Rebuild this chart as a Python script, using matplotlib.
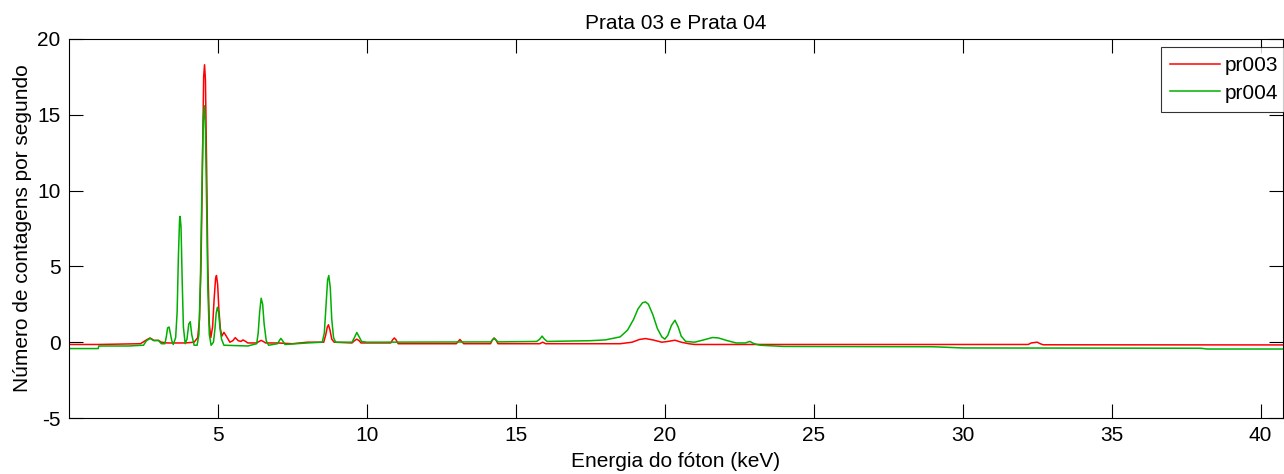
import matplotlib
matplotlib.use('Agg')
import matplotlib.pyplot as plt

# spectrum pr003 (red)
pr003_x = [0.0, 1.0, 2.4, 2.6, 2.72, 2.85, 3.0, 3.1, 3.3, 3.6, 3.9, 4.2, 4.32, 4.38, 4.43, 4.48,
           4.52, 4.55, 4.58, 4.62, 4.66, 4.71, 4.76, 4.82, 4.87, 4.92, 4.95, 4.99, 5.03, 5.08,
           5.13, 5.2, 5.28, 5.4, 5.5, 5.58, 5.68, 5.77, 5.84, 5.93, 6.0, 6.3, 6.38, 6.45, 6.52,
           6.6, 7.0, 7.5, 8.0, 8.55, 8.62, 8.67, 8.71, 8.76, 8.82, 8.9, 9.5, 9.58, 9.66, 9.74,
           9.8, 10.8, 10.86, 10.92, 10.98, 11.05, 13.0, 13.12, 13.25, 14.15, 14.21, 14.27, 14.33,
           14.4, 15.8, 15.9, 16.0, 18.5, 18.9, 19.15, 19.35, 19.6, 19.9, 20.1, 20.34, 20.55,
           20.8, 21.0, 23.0, 32.2, 32.3, 32.5, 32.6, 32.7, 40.8]
pr003_y = [-0.15, -0.15, -0.1, 0.15, 0.28, 0.12, 0.12, 0.0, -0.05, -0.05, -0.05, 0.0, 0.3, 1.5,
           5.0, 11.5, 17.5, 18.3, 17.3, 11.5, 5.0, 1.2, 0.3, 1.0, 2.8, 4.2, 4.4, 3.8, 2.2, 0.9,
           0.4, 0.65, 0.4, 0.0, 0.1, 0.3, 0.1, 0.05, 0.15, 0.05, -0.05, -0.05, 0.05, 0.12, 0.05,
           -0.05, -0.05, -0.1, 0.0, 0.0, 0.5, 1.0, 1.15, 0.8, 0.2, 0.0, -0.05, 0.1, 0.2, 0.1,
           -0.05, -0.05, 0.15, 0.28, 0.15, -0.1, -0.1, 0.18, -0.1, -0.1, 0.15, 0.28, 0.15,
           -0.1, -0.1, 0.0, -0.1, -0.1, 0.0, 0.18, 0.24, 0.15, 0.0, 0.05, 0.13, 0.0, -0.1,
           -0.15, -0.15, -0.15, -0.05, 0.0, -0.1, -0.17, -0.18]

# spectrum pr004 (green)
pr004_x = [0.0, 0.98, 1.0, 2.0, 2.5, 2.6, 2.72, 2.85, 3.0, 3.1, 3.22, 3.27, 3.31, 3.36, 3.4,
           3.45, 3.5, 3.58, 3.63, 3.67, 3.71, 3.73, 3.76, 3.8, 3.84, 3.9, 3.96, 4.02, 4.07,
           4.12, 4.2, 4.3, 4.36, 4.41, 4.46, 4.5, 4.54, 4.58, 4.62, 4.66, 4.71, 4.77, 4.85,
           4.9, 4.94, 4.98, 5.02, 5.07, 5.12, 5.2, 6.0, 6.3, 6.35, 6.4, 6.45, 6.5, 6.55, 6.62,
           6.7, 7.0, 7.06, 7.11, 7.17, 7.25, 8.0, 8.5, 8.57, 8.63, 8.68, 8.72, 8.77, 8.82, 8.88,
           8.95, 9.5, 9.58, 9.66, 9.74, 9.82, 10.0, 14.15, 14.27, 14.4, 15.7, 15.8, 15.88, 15.96,
           16.05, 17.5, 18.0, 18.5, 18.75, 18.95, 19.1, 19.25, 19.35, 19.45, 19.6, 19.75, 19.9,
           20.0, 20.1, 20.22, 20.34, 20.45, 20.55, 20.7, 21.0, 21.3, 21.6, 21.8, 22.1, 22.4,
           22.7, 22.85, 23.0, 23.2, 24.0, 29.0, 30.0, 38.0, 38.2, 40.8]
pr004_y = [-0.42, -0.42, -0.25, -0.25, -0.2, 0.1, 0.25, 0.1, 0.12, -0.1, -0.1, 0.4, 0.95, 1.0,
           0.6, 0.1, -0.15, 0.3, 2.0, 5.5, 8.0, 8.3, 7.6, 4.0, 1.0, -0.1, 0.2, 1.2, 1.35, 0.5,
           -0.2, -0.2, 0.5, 4.0, 10.0, 14.5, 15.6, 14.0, 9.0, 3.5, 0.5, -0.2, 0.0, 0.9, 1.9,
           2.3, 2.0, 0.9, 0.2, -0.2, -0.25, -0.1, 0.6, 2.0, 2.9, 2.5, 1.2, 0.1, -0.2, -0.1, 0.1,
           0.25, 0.1, -0.15, -0.05, 0.0, 0.6, 2.5, 4.1, 4.4, 3.6, 1.5, 0.3, 0.0, 0.0, 0.3, 0.64,
           0.35, 0.05, 0.0, 0.02, 0.25, 0.02, 0.05, 0.2, 0.4, 0.2, 0.05, 0.1, 0.15, 0.35, 0.8,
           1.5, 2.2, 2.6, 2.66, 2.5, 1.8, 0.9, 0.35, 0.2, 0.45, 1.1, 1.45, 1.0, 0.4, 0.05, 0.0,
           0.15, 0.31, 0.28, 0.1, -0.05, -0.05, 0.05, -0.1, -0.2, -0.28, -0.3, -0.38, -0.4,
           -0.45, -0.45]

x_ticks = [5, 10, 15, 20, 25, 30, 35, 40]
y_ticks = [-5, 0, 5, 10, 15, 20]

plt.rcParams['font.family'] = ['Liberation Sans', 'DejaVu Sans']
plt.rcParams['axes.unicode_minus'] = False
FS = 15

fig = plt.figure(figsize=(12.84, 4.74), dpi=100)
ax = fig.add_axes([69/1284, 56/474, 1214/1284, 379/474])

ax.plot(pr003_x, pr003_y, color='#ff0000', linewidth=1.1, label='pr003')
ax.plot(pr004_x, pr004_y, color='#00b000', linewidth=1.1, label='pr004')

ax.set_xlim(0, 40.75)
ax.set_ylim(-5, 20)
ax.set_xticks(x_ticks)
ax.set_yticks(y_ticks)
ax.tick_params(direction='in', length=10, width=0.8, top=True, right=True, labelsize=FS, pad=6)
for s in ax.spines.values():
    s.set_linewidth(0.8)

ax.set_title('Prata 03 e Prata 04', fontsize=FS, pad=7)
ax.set_xlabel('Energia do fóton (keV)', fontsize=FS, labelpad=5)
ax.set_ylabel('Número de contagens por segundo', fontsize=FS, labelpad=4)

leg = ax.legend(loc='upper left', bbox_to_anchor=(1161/1284, (474-47)/474),
                bbox_transform=fig.transFigure, fontsize=FS, frameon=True, fancybox=False,
                handlelength=2.4, borderaxespad=0, borderpad=0.45, labelspacing=0.4,
                handletextpad=0.2)
leg.get_frame().set_edgecolor('black')
leg.get_frame().set_linewidth(0.8)

fig.savefig('out.png', dpi=100)
